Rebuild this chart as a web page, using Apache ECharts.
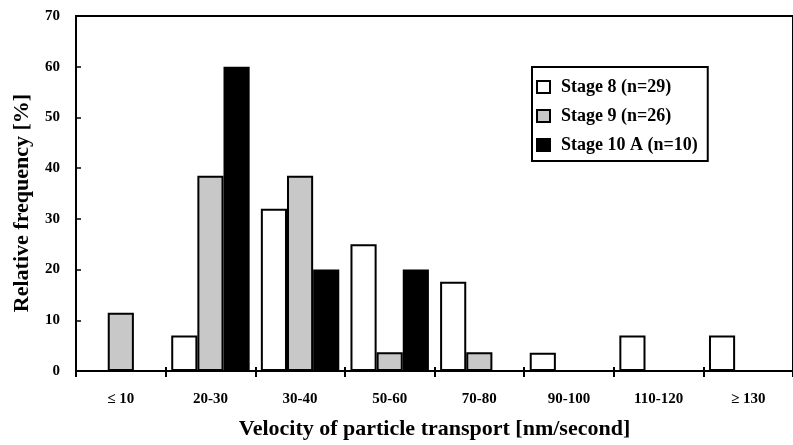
<!DOCTYPE html>
<html>
<head>
<meta charset="utf-8">
<script src="https://cdn.jsdelivr.net/npm/echarts@6/dist/echarts.min.js"></script>
<style>
html,body{margin:0;padding:0;background:#fff;}
#chart{width:793px;height:445px;}
</style>
</head>
<body>
<div id="chart"></div>
<script>
var categories = ['\u2264 10', '20-30', '30-40', '50-60', '70-80', '90-100', '110-120', '\u2265 130'];
var stage8 = [0, 7, 32, 25, 17.6, 3.6, 7, 7];
var stage9 = [11.5, 38.5, 38.5, 3.7, 3.7, 0, 0, 0];
var stage10 = [0, 60, 20, 20, 0, 0, 0, 0];
var seriesNames = ['Stage 8 (n=29)', 'Stage 9 (n=26)', 'Stage 10 A (n=10)'];
var yTicks = [0, 10, 20, 30, 40, 50, 60, 70];
var xTitle = 'Velocity of particle transport [nm/second]';
var yTitle = 'Relative frequency [%]';

var FONT = '"Liberation Serif", "Times New Roman", serif';
var chart = echarts.init(document.getElementById('chart'), null, {renderer: 'canvas'});

function bar(name, data, color) {
  return {
    name: name, type: 'bar', data: data, xAxisIndex: 0,
    barGap: '0%', barCategoryGap: '12.5%',
    itemStyle: {color: color, borderColor: '#000', borderWidth: 2},
    emphasis: {disabled: true}
  };
}

chart.setOption({
  animation: false,
  backgroundColor: '#fff',
  grid: {left: 76, top: 16, right: -5, bottom: 73, show: true, borderColor: '#000', borderWidth: 2},
  legend: {
    orient: 'vertical', left: 532, top: 67,
    icon: 'rect',
    itemWidth: 13, itemHeight: 12, itemGap: 11,
    padding: [11, 10, 7, 4],
    borderColor: '#000', borderWidth: 2,
    textStyle: {fontFamily: FONT, fontWeight: 'bold', fontSize: 18, color: '#000', padding: [0, 0, 0, 6]},
    data: seriesNames
  },
  xAxis: [{
    type: 'category', data: categories, position: 'bottom',
    axisLine: {lineStyle: {color: '#000', width: 2}},
    axisTick: {show: true, inside: false, length: 6, interval: 0, lineStyle: {color: '#000', width: 2}},
    axisLabel: {interval: 0, margin: 21, fontFamily: FONT, fontWeight: 'bold', fontSize: 15, color: '#000'},
    name: xTitle, nameLocation: 'middle', nameGap: 47,
    nameTextStyle: {fontFamily: FONT, fontWeight: 'bold', fontSize: 22, color: '#000'}
  }, {
    type: 'category', data: categories, position: 'bottom',
    axisLine: {show: false},
    axisTick: {show: true, inside: true, length: 4, interval: 0, lineStyle: {color: '#000', width: 2}},
    axisLabel: {show: false}
  }],
  yAxis: {
    type: 'value', min: yTicks[0], max: yTicks[yTicks.length - 1], interval: 10,
    splitLine: {show: false},
    axisLine: {show: true, lineStyle: {color: '#000', width: 2}},
    axisTick: {show: true, inside: true, length: 5, lineStyle: {color: '#000', width: 1.5}},
    axisLabel: {margin: 16, fontFamily: FONT, fontWeight: 'bold', fontSize: 15, color: '#000'}
  },
  graphic: [{
    type: 'text', x: 22, y: 203, rotation: Math.PI / 2,
    style: {text: yTitle, font: 'bold 22px ' + FONT, fill: '#000', align: 'center', verticalAlign: 'middle'}
  }],
  series: [
    bar(seriesNames[0], stage8, '#ffffff'),
    bar(seriesNames[1], stage9, '#c8c8c8'),
    bar(seriesNames[2], stage10, '#000000')
  ]
});
</script>
</body>
</html>
